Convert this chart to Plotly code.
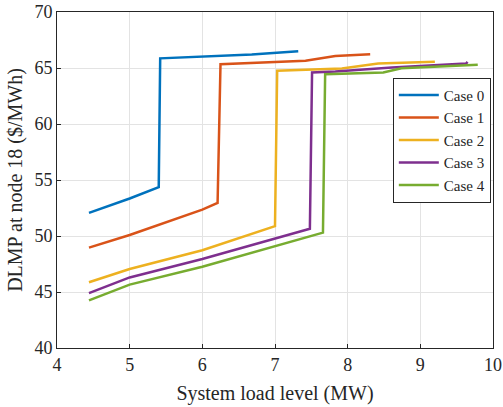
import plotly.graph_objects as go

# System load (MW) and DLMP at node 18 ($/MWh) for each case
case0_x = [4.44, 5.0, 5.40, 5.42, 6.68, 7.32]
case0_y = [52.06, 53.35, 54.36, 65.86, 66.2, 66.5]

case1_x = [4.44, 5.0, 6.0, 6.21, 6.25, 7.42, 7.83, 8.31]
case1_y = [48.96, 50.09, 52.36, 52.95, 65.34, 65.64, 66.08, 66.22]

case2_x = [4.44, 5.0, 6.0, 7.0, 7.03, 7.92, 8.42, 9.20]
case2_y = [45.87, 47.05, 48.73, 50.88, 64.75, 64.96, 65.4, 65.55]

case3_x = [4.44, 5.0, 6.0, 7.48, 7.51, 7.83, 8.61, 9.63, 9.65]
case3_y = [44.9, 46.3, 47.94, 50.65, 64.6, 64.69, 65.04, 65.4, 65.55]

case4_x = [4.44, 5.0, 6.0, 7.66, 7.69, 8.49, 8.74, 9.79]
case4_y = [44.25, 45.66, 47.26, 50.3, 64.45, 64.6, 64.98, 65.28]

names = ["Case 0", "Case 1", "Case 2", "Case 3", "Case 4"]
colors = ["#0072BD", "#D95319", "#EDB120", "#7E2F8E", "#77AC30"]
series = [(case0_x, case0_y), (case1_x, case1_y), (case2_x, case2_y),
          (case3_x, case3_y), (case4_x, case4_y)]

x_ticks = [4, 5, 6, 7, 8, 9, 10]
y_ticks = [40, 45, 50, 55, 60, 65, 70]

fig = go.Figure()
for name, color, (xs, ys) in zip(names, colors, series):
    fig.add_trace(go.Scatter(x=xs, y=ys, mode="lines", name=name,
                             line=dict(color=color, width=2.5)))

font = "Liberation Serif"
ink = "#262626"
axis_common = dict(
    showgrid=True, gridcolor="#e3e3e3", gridwidth=1,
    showline=True, linecolor=ink, linewidth=1, mirror=True,
    ticks="inside", ticklen=4, tickcolor=ink,
    zeroline=False, automargin=False,
    tickfont=dict(family=font, size=18, color=ink),
)

fig.update_xaxes(range=[4, 10], tickvals=x_ticks,
                 title=dict(text="System load level (MW)",
                            font=dict(family=font, size=20, color=ink),
                            standoff=12),
                 **axis_common)
fig.update_yaxes(range=[40, 70], tickvals=y_ticks,
                 title=dict(text="DLMP at node 18 ($/MWh)",
                            font=dict(family=font, size=20, color=ink),
                            standoff=6),
                 **axis_common)

fig.update_layout(
    width=503, height=407,
    font=dict(family=font, size=16, color=ink),
    margin=dict(l=57, r=10, t=12, b=59, pad=0),
    paper_bgcolor="white", plot_bgcolor="white",
    legend=dict(x=0.995, y=0.804, xanchor="right", yanchor="top",
                bgcolor="white", bordercolor=ink, borderwidth=1,
                font=dict(family=font, size=15, color=ink),
                tracegroupgap=0, itemwidth=40),
)

fig.write_html("out.html")
